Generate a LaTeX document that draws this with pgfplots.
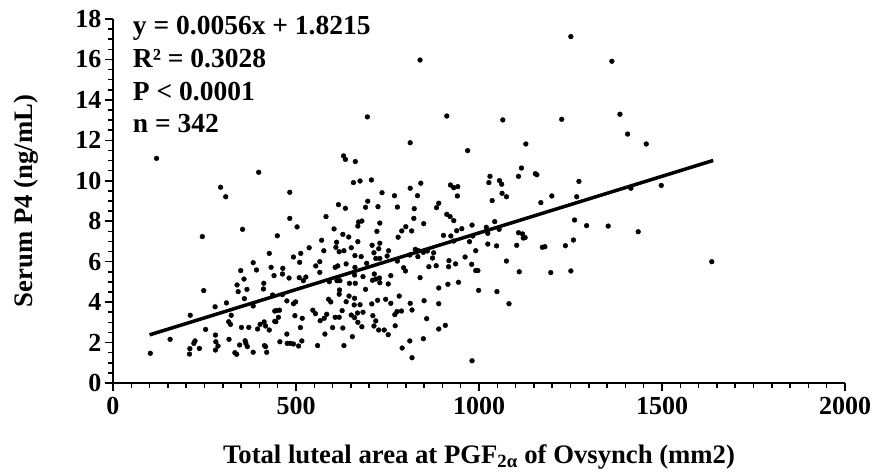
\documentclass[border=0pt]{standalone}
\usepackage{pgfplots}
\pgfplotsset{compat=1.18}
\usepackage{fontspec}
\setmainfont{Liberation Serif}
\newcommand{\tickfont}{\fontsize{26bp}{30bp}\selectfont\bfseries}
\newcommand{\labfont}{\fontsize{26.7bp}{30bp}\selectfont\bfseries}
\newcommand{\annfont}{\fontsize{27.5bp}{32.8bp}\selectfont\bfseries}
\begin{document}
\begin{tikzpicture}
\useasboundingbox (-113bp,-91bp) rectangle (760bp,383bp);
\begin{axis}[
  at={(0,0)}, anchor=south west,
  scale only axis, width=732bp, height=364bp,
  xmin=0, xmax=2000, ymin=0, ymax=18,
  axis lines=left, axis line style={line width=2.5bp, -},
  xtick={0,500,...,2000}, ytick={0,2,...,18},
  minor x tick num=9, minor y tick num=3,
  tick align=outside, major tick length=8bp, minor tick length=5bp,
  every tick/.style={line width=1.5bp, black},
  /pgf/number format/1000 sep={},
  /pgf/number format/assume math mode=true,
  ticklabel style={font=\tickfont},
  xticklabel style={yshift=-3bp},
  xlabel={Total luteal area at PGF\textsubscript{2α} of Ovsynch (mm2)},
  ylabel={Serum P4 (ng/mL)},
  label style={font=\labfont},
  xlabel style={at={(axis description cs:0.5,-0.2025)}, anchor=center},
  ylabel style={at={(axis description cs:-0.119,0.5)}, anchor=center},
  clip=false,
]
\addplot[only marks, mark=*, mark size=2.4bp, black] table {
x y
119 11.11
398 10.42
294 9.68
308 9.21
354 7.60
244 7.24
427 6.41
383 5.95
432 5.72
349 5.56
392 5.59
440 5.31
358 5.14
339 4.85
412 4.93
342 4.52
366 4.63
411 4.65
248 4.57
359 4.17
436 4.35
310 3.96
279 3.77
383 3.81
211 3.35
323 3.35
442 3.56
316 3.03
321 2.90
351 2.75
371 2.75
402 2.90
413 3.02
417 2.82
395 2.67
427 2.62
442 3.05
253 2.65
156 2.16
280 2.37
281 2.04
287 1.83
280 1.63
224 2.08
221 1.96
236 1.71
210 1.70
209 1.43
317 2.16
346 1.88
361 2.09
363 1.96
367 1.80
333 1.50
338 1.42
383 1.52
414 1.85
417 1.80
420 1.52
102 1.47
812 11.88
630 11.23
635 11.06
662 10.95
657 9.91
675 9.99
706 10.04
483 9.43
735 9.41
769 9.26
812 9.63
696 8.99
616 8.82
635 8.64
690 8.69
724 8.72
777 8.70
823 8.62
483 8.14
503 7.72
582 8.23
671 7.96
680 8.01
669 7.76
729 7.91
449 7.28
604 7.62
721 7.50
800 7.73
789 7.52
816 7.52
779 7.21
570 7.06
611 6.96
628 7.35
644 7.22
669 6.99
609 6.71
618 6.49
631 6.54
651 6.69
576 6.54
536 6.69
513 6.41
493 6.23
510 5.97
554 5.79
565 6.00
565 5.47
607 5.72
614 5.79
637 5.89
661 6.30
678 6.25
708 6.81
713 6.44
726 6.64
729 6.91
718 6.16
729 6.16
753 6.54
749 6.28
777 6.03
794 5.70
799 5.54
661 5.72
693 5.92
714 5.39
718 5.14
728 5.19
729 4.96
752 4.90
759 5.31
683 5.26
709 5.08
660 5.34
646 4.93
662 4.93
612 5.06
620 5.06
591 5.01
527 5.24
509 5.21
520 5.06
481 5.19
463 5.39
464 5.67
463 4.37
475 4.06
493 3.92
499 4.01
589 4.14
595 4.01
619 4.60
618 4.39
645 4.30
660 4.19
690 4.63
637 4.02
659 3.86
675 3.87
707 3.91
723 4.09
745 4.14
759 3.94
782 4.30
812 3.94
817 3.61
447 3.58
455 3.60
452 3.25
445 3.03
497 3.33
517 3.20
546 3.60
553 3.43
566 3.08
577 3.20
584 3.40
607 3.25
618 3.25
626 3.58
600 2.74
628 2.72
651 3.36
660 3.23
669 3.00
680 2.78
668 3.46
683 3.50
710 3.33
718 3.07
713 2.82
726 2.62
741 2.62
752 2.39
771 2.83
770 3.38
776 3.53
788 3.56
512 2.74
516 2.08
507 1.83
493 1.93
485 1.96
476 1.96
475 2.42
456 2.04
559 1.85
579 2.42
631 1.85
654 2.29
811 2.08
790 1.73
817 1.25
969 11.49
1128 11.82
1116 10.63
1108 10.22
1154 10.35
1158 10.30
1030 10.22
1027 9.91
1056 10.01
1062 9.83
1063 9.38
1075 9.21
1036 9.02
841 9.88
832 9.26
922 9.79
931 9.66
942 9.71
941 9.25
890 8.89
884 8.67
822 8.14
849 7.88
912 8.34
921 8.23
931 8.03
939 7.53
953 7.63
981 7.81
903 7.30
923 7.27
931 7.02
983 7.27
974 6.99
1020 7.70
1024 7.40
1043 7.98
1055 7.60
1024 6.87
1048 6.78
991 6.54
962 6.23
980 5.87
991 5.56
997 5.56
936 5.89
918 6.05
917 5.75
883 5.80
863 5.75
873 6.18
876 6.44
859 6.53
848 6.46
835 6.54
826 6.61
833 6.25
811 6.33
839 5.21
1075 6.03
1103 6.81
1108 7.43
1119 7.37
1121 7.17
1126 7.19
1173 6.71
1180 6.74
1169 8.92
1199 9.25
1110 5.50
1196 5.46
1082 3.92
1049 4.52
999 4.58
944 4.98
915 4.88
890 4.70
890 3.92
850 4.07
857 3.18
890 2.67
908 2.85
848 2.19
981 1.10
1251 17.13
1363 15.91
1385 13.29
1406 12.31
1457 11.82
1065 13.01
1226 13.04
1273 9.97
1267 9.21
1415 9.63
1498 9.77
1236 6.79
1258 7.07
1261 8.06
1294 7.78
1353 7.76
1435 7.48
1251 5.54
1636 6.00
839 15.97
695 13.16
912 13.20
};
\addplot[line width=3.5bp, black] coordinates {(100,2.3815) (1640,11.0055)};
\node[anchor=north west, align=left, font=\annfont, inner sep=0pt]
  at (rel axis cs:0.027,1.008)
  {y = 0.0056x + 1.8215\\ R² = 0.3028\\ P < 0.0001\\ n = 342};
\end{axis}
\end{tikzpicture}
\end{document}
